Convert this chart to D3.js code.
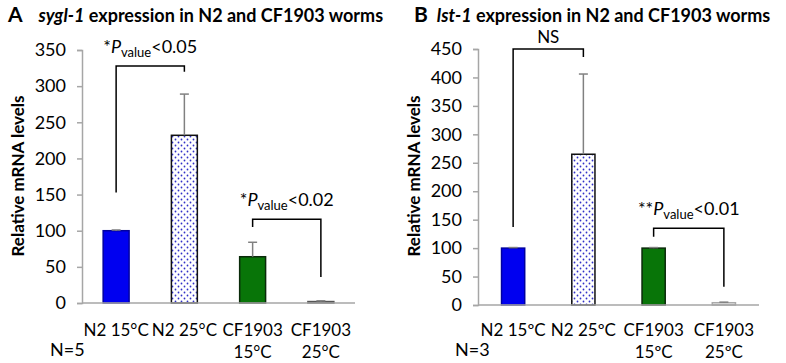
<!DOCTYPE html>
<html>
<head>
<meta charset="utf-8">
<script src="https://cdn.jsdelivr.net/npm/d3@7"></script>
<style>
  body { margin: 0; background: #fff; }
  svg text { font-family: Lato, "Open Sans", sans-serif; fill: #000; }
</style>
</head>
<body>
<div id="chart"></div>
<script>
// category labels (two lines each)
var labelsA1 = ["N2 15°C", "N2 25°C", "CF1903", "CF1903"];
var labelsA2 = ["", "", "15°C", "25°C"];
var labelsB1 = ["N2 15ºC", "N2 25ºC", "CF1903", "CF1903"];
var labelsB2 = ["", "", "15ºC", "25ºC"];

// sygl-1 (panel A)
var syglMeans = [100, 232, 64, 2];
var syglErrors = [1, 57, 20, 1];
var syglTicks = [0, 50, 100, 150, 200, 250, 300, 350];

// lst-1 (panel B)
var lstMeans = [100, 265, 100, 4];
var lstErrors = [1, 141, 1, 1];
var lstTicks = [0, 50, 100, 150, 200, 250, 300, 350, 400, 450];

// significance brackets: [from bar, to bar, top value, left end, right end]
var syglBrackets = [[0, 1, 328, 153, 320], [2, 3, 116, 105, 36]];
var syglStars = ["*", "*"];
var syglPvals = ["<0.05", "<0.02"];
var lstBrackets = [[0, 1, 450, 137, 436], [2, 3, 135, 120, 32]];
var lstStars = ["NS", "**"];
var lstPvals = ["", "<0.01"];

var w = 786, h = 363;

var svg = d3.select("#chart")
    .append("svg")
    .attr("width", w)
    .attr("height", h);

// dotted fill for N2 25C
var defs = svg.append("defs");
var pat = defs.append("pattern")
    .attr("id", "dots")
    .attr("width", 6)
    .attr("height", 6)
    .attr("patternUnits", "userSpaceOnUse");
pat.append("rect").attr("width", 6).attr("height", 6).attr("fill", "#fff");
pat.append("circle").attr("cx", 1.5).attr("cy", 1.5).attr("r", 0.9).attr("fill", "#3030c8");
pat.append("circle").attr("cx", 4.5).attr("cy", 4.5).attr("r", 0.9).attr("fill", "#3030c8");

var fills = ["#0000f0", "url(#dots)", "#087508", "#f2f2f2"];

function panel(o) {
    var g = svg.append("g");

    //title
    var t = g.append("text")
        .attr("x", o.titleX)
        .attr("y", 22)
        .style("font-size", "18px")
        .style("font-weight", "bold");
    t.append("tspan").style("font-size", "21px").text(o.letter);
    t.append("tspan").attr("dx", o.titleGap).style("font-style", "italic").text(o.gene);
    t.append("tspan").text(" expression in N2 and CF1903 worms");

    var xScale = d3.scaleBand()
        .domain(d3.range(o.means.length))
        .range([o.x0, o.x1])
        .paddingInner(o.pad)
        .paddingOuter(o.pad / 2);

    var yScale = d3.scaleLinear()
        .domain([0, o.ticks[o.ticks.length - 1]])
        .range([o.y0, o.yTop]);

    //y axis
    var yAxis = d3.axisLeft(yScale)
        .tickValues(o.ticks)
        .tickSize(5)
        .tickPadding(11);
    var ya = g.append("g")
        .attr("transform", "translate(" + o.x0 + ",0)")
        .call(yAxis);
    ya.select(".domain").attr("stroke", "#a6a6a6").attr("stroke-width", 1.5);
    ya.selectAll(".tick line").attr("stroke", "#a6a6a6").attr("stroke-width", 1.5);
    ya.selectAll(".tick text")
        .style("font-size", "18px")
        .style("font-family", "Lato, sans-serif")
        .attr("fill", "#000");

    //bars
    g.selectAll(".bar")
        .data(o.means)
        .enter()
        .append("rect")
        .attr("x", function(d, i) { return xScale(i); })
        .attr("y", function(d) { return yScale(d); })
        .attr("width", xScale.bandwidth())
        .attr("height", function(d) { return o.y0 - yScale(d); })
        .attr("fill", function(d, i) { return fills[i]; })
        .attr("stroke", function(d, i) { return o.strokes[i]; })
        .attr("stroke-width", 1.5);

    //x axis line
    g.append("line")
        .attr("x1", o.x0).attr("x2", o.x1)
        .attr("y1", o.y0).attr("y2", o.y0)
        .attr("stroke", "#a6a6a6")
        .attr("stroke-width", 1.5);

    //error bars
    var eb = g.selectAll(".err")
        .data(o.means)
        .enter()
        .append("g");
    eb.append("line")
        .attr("x1", function(d, i) { return xScale(i) + xScale.bandwidth() / 2; })
        .attr("x2", function(d, i) { return xScale(i) + xScale.bandwidth() / 2; })
        .attr("y1", function(d) { return yScale(d); })
        .attr("y2", function(d, i) { return yScale(d + o.errors[i]); })
        .attr("stroke", "#808080")
        .attr("stroke-width", 1.5);
    eb.append("line")
        .attr("x1", function(d, i) { return xScale(i) + xScale.bandwidth() / 2 - 4.5; })
        .attr("x2", function(d, i) { return xScale(i) + xScale.bandwidth() / 2 + 4.5; })
        .attr("y1", function(d, i) { return yScale(d + o.errors[i]); })
        .attr("y2", function(d, i) { return yScale(d + o.errors[i]); })
        .attr("stroke", "#808080")
        .attr("stroke-width", 1.5);

    //category labels
    g.selectAll(".lab1")
        .data(o.labels1)
        .enter()
        .append("text")
        .attr("x", function(d, i) { return xScale(i) + xScale.bandwidth() / 2; })
        .attr("y", 336)
        .attr("text-anchor", "middle")
        .style("font-size", "17px")
        .text(function(d) { return d; });
    g.selectAll(".lab2")
        .data(o.labels2)
        .enter()
        .append("text")
        .attr("x", function(d, i) { return xScale(i) + xScale.bandwidth() / 2; })
        .attr("y", 358)
        .attr("text-anchor", "middle")
        .style("font-size", "17px")
        .text(function(d) { return d; });

    g.append("text")
        .attr("x", o.nX)
        .attr("y", 356)
        .style("font-size", "18px")
        .text(o.n);

    //y axis label
    g.append("text")
        .attr("transform", "translate(" + o.labelX + ",176) rotate(-90)")
        .attr("text-anchor", "middle")
        .style("font-size", "17px")
        .style("font-weight", "bold")
        .text("Relative mRNA levels");

    //significance brackets
    o.brackets.forEach(function(b, k) {
        var xa = xScale(b[0]) + xScale.bandwidth() / 2;
        var xb = xScale(b[1]) + xScale.bandwidth() / 2;
        g.append("path")
            .attr("d", "M" + xa + "," + yScale(b[3]) + "V" + yScale(b[2]) +
                "H" + xb + "V" + yScale(b[4]))
            .attr("fill", "none")
            .attr("stroke", "#000")
            .attr("stroke-width", 1.5);

        var lab = g.append("text")
            .attr("x", (xa + xb) / 2)
            .attr("text-anchor", "middle")
            .style("font-size", "18px");
        if (o.pvals[k] === "") {
            lab.attr("y", yScale(b[2]) - 6).style("font-size", "17px").text(o.stars[k]);
        } else {
            lab.attr("y", yScale(b[2]) - 13);
            lab.append("tspan").text(o.stars[k]);
            lab.append("tspan").style("font-style", "italic").text("P");
            lab.append("tspan").attr("dy", 4).style("font-size", "13px").text("value");
            lab.append("tspan").attr("dy", -4).text(o.pvals[k]);
        }
    });
}

panel({
    letter: "A", gene: "sygl-1", titleX: 8, titleGap: 16,
    means: syglMeans, errors: syglErrors, ticks: syglTicks,
    labels1: labelsA1, labels2: labelsA2,
    brackets: syglBrackets, stars: syglStars, pvals: syglPvals,
    x0: 82, x1: 355, y0: 303, yTop: 50, pad: 0.62,
    strokes: ["#0000a0", "#111", "#0a2a0a", "#555"],
    nX: 50, n: "N=5", labelX: 24
});

panel({
    letter: "B", gene: "lst-1", titleX: 414, titleGap: 9,
    means: lstMeans, errors: lstErrors, ticks: lstTicks,
    labels1: labelsB1, labels2: labelsB2,
    brackets: lstBrackets, stars: lstStars, pvals: lstPvals,
    x0: 478, x1: 759, y0: 305, yTop: 49, pad: 0.67,
    strokes: ["#0000a0", "#111", "#0a2a0a", "#aaa"],
    nX: 455, n: "N=3", labelX: 420
});
</script>
</body>
</html>
